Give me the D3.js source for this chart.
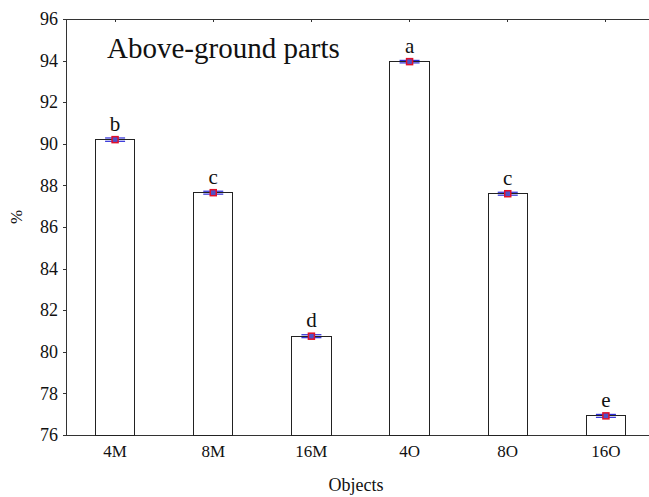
<!DOCTYPE html>
<html>
<head>
<meta charset="utf-8">
<script src="https://cdnjs.cloudflare.com/ajax/libs/d3/7.8.5/d3.min.js"></script>
<style>
  body { margin: 0; background: #fff; }
  svg text { font-family: "Liberation Serif", "Times New Roman", serif; fill: #111; }
  .axis path, .axis line { stroke: #333; shape-rendering: crispEdges; }
</style>
</head>
<body>
<div id="chart"></div>
<script>
// data
var objects = ["4M", "8M", "16M", "4O", "8O", "16O"];
var means = [90.2, 87.65, 80.75, 93.95, 87.6, 76.92];
var errors = [0.08, 0.07, 0.07, 0.06, 0.07, 0.07];
var groups = ["b", "c", "d", "a", "c", "e"];
var yTicks = [76, 78, 80, 82, 84, 86, 88, 90, 92, 94, 96];

var width = 649, height = 497;
var margin = { top: 19, right: -6, bottom: 62, left: 66 };
var w = width - margin.left - margin.right;
var h = height - margin.top - margin.bottom;

var svg = d3.select("#chart").append("svg")
    .attr("width", width)
    .attr("height", height)
  .append("g")
    .attr("transform", "translate(" + margin.left + "," + margin.top + ")");

var x = d3.scaleBand().domain(objects).range([0, w]).paddingInner(0.6).paddingOuter(0.3);
var y = d3.scaleLinear().domain([76, 96]).range([h, 0]);

// frame: outer ticks left, inner ticks on top/bottom
svg.append("g")
    .attr("class", "axis")
    .call(d3.axisLeft(y).tickValues(yTicks).tickSize(3).tickPadding(5).tickFormat(d3.format("d")))
    .call(function (g) { g.selectAll("text").style("font-size", "18px"); });

svg.append("g")
    .attr("class", "axis")
    .attr("transform", "translate(0," + h + ")")
    .call(d3.axisBottom(x).tickSize(-3).tickSizeOuter(0).tickPadding(10))
    .call(function (g) { g.selectAll("text").style("font-size", "17px"); });

svg.append("g")
    .attr("class", "axis")
    .call(d3.axisTop(x).tickSize(-3).tickSizeOuter(0).tickFormat(""));

var rows = objects.map(function (o, i) {
  return { name: o, mean: means[i], err: errors[i], group: groups[i] };
});

var bar = svg.selectAll("g.bar").data(rows).enter().append("g").attr("class", "bar");

bar.append("rect")
    .attr("x", function (d) { return x(d.name); })
    .attr("y", function (d) { return y(d.mean); })
    .attr("width", x.bandwidth())
    .attr("height", function (d) { return y(76) - y(d.mean); })
    .attr("fill", "#fff")
    .attr("stroke", "#222")
    .attr("stroke-width", 1)
    .attr("shape-rendering", "crispEdges");

var cap = 10;
function cx(d) { return x(d.name) + x.bandwidth() / 2; }

bar.each(function (d) {
  var g = d3.select(this);
  [d.mean + d.err, d.mean - d.err].forEach(function (v) {
    g.append("line")
      .attr("x1", cx(d) - cap).attr("x2", cx(d) + cap)
      .attr("y1", y(v)).attr("y2", y(v))
      .attr("stroke", "#2b2bd6").attr("stroke-width", 1.2);
  });
  g.append("line")
    .attr("x1", cx(d)).attr("x2", cx(d))
    .attr("y1", y(d.mean + d.err)).attr("y2", y(d.mean - d.err))
    .attr("stroke", "#2b2bd6").attr("stroke-width", 1.2);
  g.append("rect")
    .attr("x", cx(d) - 3).attr("y", y(d.mean) - 3)
    .attr("width", 6).attr("height", 6)
    .attr("fill", "#5050c8")
    .attr("stroke", "#e0102a").attr("stroke-width", 1.5);
  g.append("text")
    .attr("x", cx(d))
    .attr("y", y(d.mean) - 9)
    .attr("text-anchor", "middle")
    .style("font-size", "21px")
    .text(d.group);
});

svg.append("text")
    .attr("x", 41)
    .attr("y", 39)
    .style("font-size", "29px")
    .text("Above-ground parts");

svg.append("text")
    .attr("transform", "translate(" + (-44) + "," + (h / 2 - 10) + ") rotate(-90)")
    .attr("text-anchor", "middle")
    .style("font-size", "17px")
    .text("%");

svg.append("text")
    .attr("x", 290)
    .attr("y", h + 56)
    .attr("text-anchor", "middle")
    .style("font-size", "18px")
    .text("Objects");
</script>
</body>
</html>
